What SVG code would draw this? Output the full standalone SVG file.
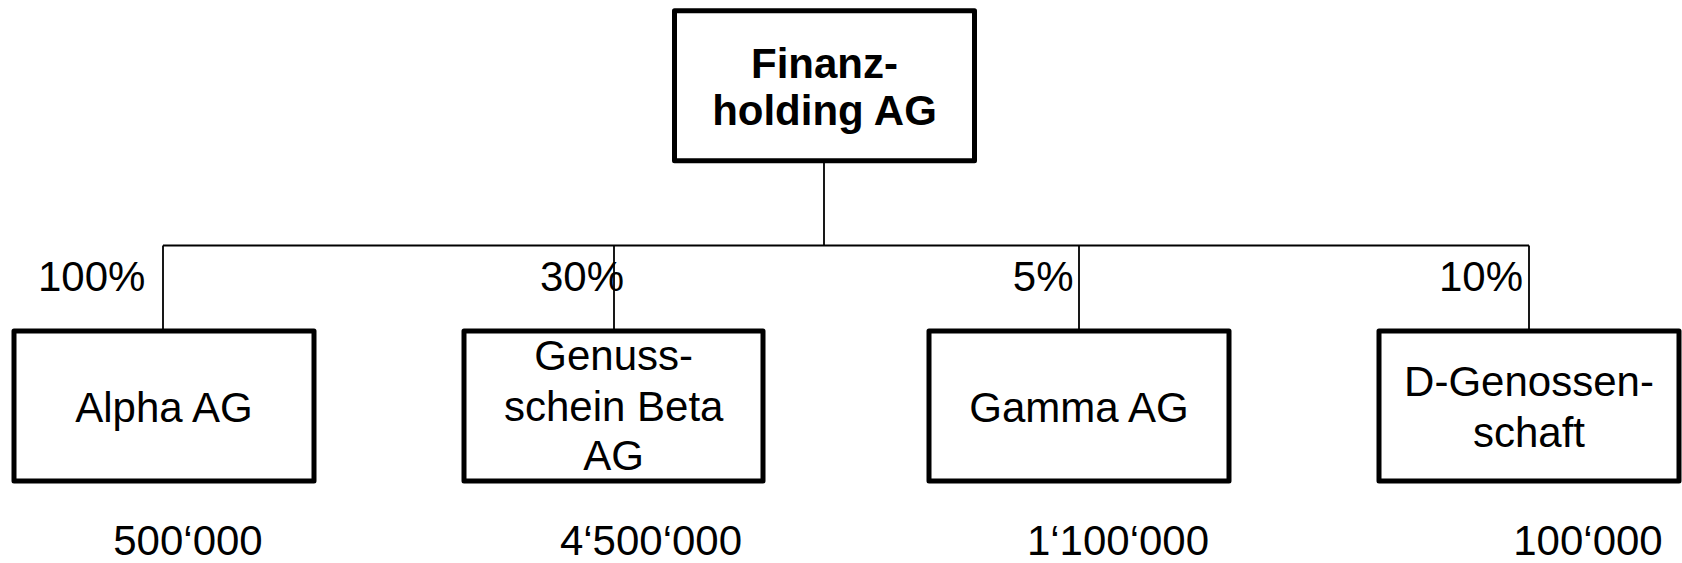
<svg xmlns="http://www.w3.org/2000/svg" width="1682" height="563" viewBox="0 0 1682 563">
<style>
.box{fill:#fff;stroke:#000;stroke-width:5;stroke-linejoin:round}
.t{font-family:"Liberation Sans",Arial,sans-serif;font-size:42px;fill:#000}
.c{text-anchor:middle}
.b{font-weight:bold}
.ln{stroke:#000;stroke-width:1.8;fill:none}
</style>
<rect width="1682" height="563" fill="#fff"/>
<g id="connectors">
<path class="ln" d="M824,163 V245.5 M163,245.5 H1529 M163,245.5 V329 M614,245.5 V329 M1079,245.5 V329 M1529,245.5 V329"/>
</g>
<g id="holding">
<rect class="box" x="674.5" y="10.8" width="300" height="150"/>
<text class="t c b" x="824.5" y="78">Finanz-</text>
<text class="t c b" x="824.5" y="124.5">holding AG</text>
</g>
<g id="alpha">
<rect class="box" x="14" y="331" width="300" height="150"/>
<text class="t c" x="164" y="421.7">Alpha AG</text>
<text class="t" x="38" y="291">100%</text>
<text class="t c" x="188" y="555">500‘000</text>
</g>
<g id="beta">
<rect class="box" x="464" y="331" width="299" height="150"/>
<text class="t c" x="613.7" y="369.5">Genuss-</text>
<text class="t c" x="613.7" y="420.5">schein Beta</text>
<text class="t c" x="613.7" y="470">AG</text>
<text class="t" x="540" y="291">30%</text>
<text class="t c" x="651" y="555">4‘500‘000</text>
</g>
<g id="gamma">
<rect class="box" x="929" y="331" width="300" height="150"/>
<text class="t c" x="1079" y="421.7">Gamma AG</text>
<text class="t" x="1073.5" y="291" text-anchor="end">5%</text>
<text class="t c" x="1118" y="555">1‘100‘000</text>
</g>
<g id="genossenschaft">
<rect class="box" x="1379" y="331" width="300" height="150"/>
<text class="t c" x="1529" y="396">D-Genossen-</text>
<text class="t c" x="1529" y="446.7">schaft</text>
<text class="t" x="1523" y="291" text-anchor="end">10%</text>
<text class="t c" x="1588" y="555">100‘000</text>
</g>
</svg>
